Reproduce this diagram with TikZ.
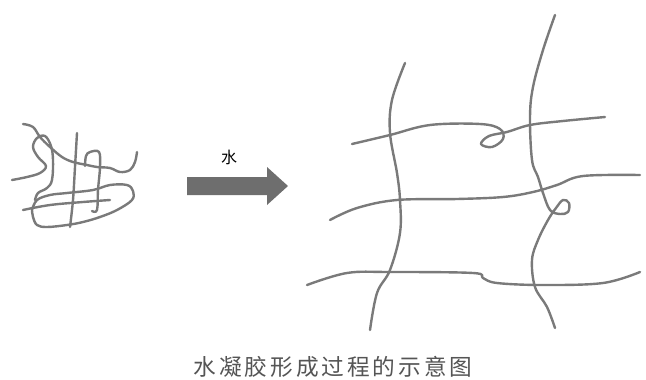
\documentclass[tikz,border=0pt]{standalone}
\usepackage{fontspec}
\newfontfamily\cjk{Noto Sans CJK SC}
\usetikzlibrary{positioning}

\definecolor{strand}{HTML}{7A7A7A}
\definecolor{arrowgray}{HTML}{6E6E6E}
\definecolor{captiongray}{HTML}{555555}

\tikzset{
  fibre/.style={draw=strand, line width=1.8pt, line cap=round, line join=round},
}

\begin{document}
\begin{tikzpicture}[x=0.75pt,y=0.75pt,yscale=-1,xscale=1]
\useasboundingbox (0,0) rectangle (646,379);

%Curve Lines: dry tangle
\draw[fibre] plot[smooth,tension=0.6] coordinates {(23,124) (33,127) (40,137) (50,147) (62,157) (73,162) (87,165) (97,167) (110,168) (120,172) (130,170) (135,162) (137,152)};
\draw[fibre] plot[smooth,tension=0.6] coordinates {(12,180) (27,177) (40,173) (46,166) (38,157) (33,147) (37,138) (45,136) (51,146) (53,160) (52,180) (47,188) (38,193) (35,200)};
\draw[fibre] plot[smooth,tension=0.6] coordinates {(77,133) (75,167) (73,200) (70,227)};
\draw[fibre] plot[smooth,tension=0.6] coordinates {(85,166) (86,156) (90,152) (99,152) (100,167) (98,190) (97,210) (92,211)};
\draw[fibre] plot[smooth,tension=0.6] coordinates {(32,210) (37,200) (50,195) (67,193) (93,190) (110,185) (127,185) (133,191) (132,200) (117,210) (100,217) (83,222) (67,225) (47,227) (37,225) (33,217) (32,210)};
\draw[fibre] plot[smooth,tension=0.6] coordinates {(23,210) (50,205) (83,202) (110,200)};

%Arrow and label
\fill[arrowgray] (187,177) -- (267,177) -- (267,167) -- (288,186) -- (267,205) -- (267,195) -- (187,195) -- cycle;
\node[font=\cjk\fontsize{12}{12}\selectfont] (water) at (229,157) {水};

%Curve Lines: swollen network, vertical strands
\draw[fibre] plot[smooth,tension=0.6] coordinates {(405,63) (392,100) (390,133) (397,173) (400,200) (400,233) (390,270) (377,293) (370,330)};
\draw[fibre] plot[smooth,tension=0.6] coordinates {(555,15) (543,50) (533,87) (530,117) (532,160) (538,177) (543,193) (550,210) (560,214) (568,212) (569,203) (563,200) (556,208) (548,220) (538,240) (532,260) (535,287) (547,307) (555,328)};

%Curve Lines: swollen network, horizontal strands
\draw[fibre] plot[smooth,tension=0.6] coordinates {(352,144) (390,135) (430,125) (480,124) (500,129) (503,139) (492,147) (481,144) (489,136) (507,132) (530,125) (563,121) (605,117)};
\draw[fibre] plot[smooth,tension=0.6] coordinates {(330,220) (357,208) (397,200) (457,199) (503,197) (533,192) (557,185) (583,176) (640,175)};
\draw[fibre] plot[smooth,tension=0.6] coordinates {(307,285) (347,273) (390,272) (473,273) (483,278) (497,283) (543,285) (603,283) (640,272)};

%Caption
\node[font=\cjk\fontsize{17}{17}\selectfont, text=captiongray] (caption) at (333,367) {\addfontfeature{LetterSpace=13}水凝胶形成过程的示意图};

\end{tikzpicture}
\end{document}
